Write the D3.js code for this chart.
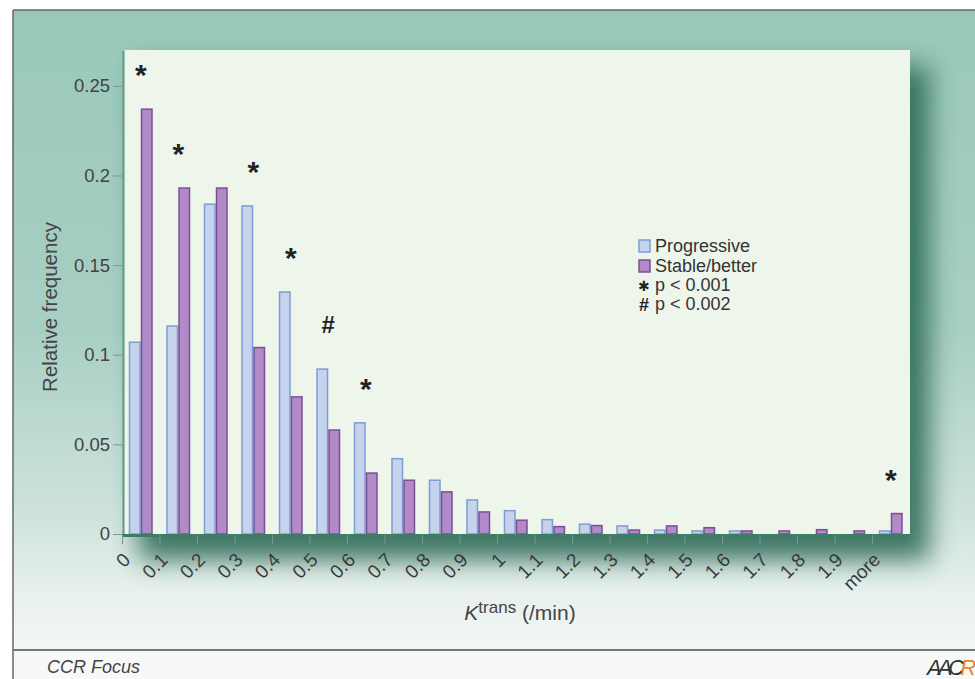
<!DOCTYPE html>
<html>
<head>
<meta charset="utf-8">
<script src="https://cdn.jsdelivr.net/npm/d3@7"></script>
<style>
  body { margin: 0; background: #fff; }
  text { font-family: "Liberation Sans", Arial, sans-serif; }
</style>
</head>
<body>
<div id="chart"></div>
<script>
/* Ktrans histogram: progressive vs stable/better */

const categories = ["0", "0.1", "0.2", "0.3", "0.4", "0.5", "0.6", "0.7", "0.8", "0.9",
  "1", "1.1", "1.2", "1.3", "1.4", "1.5", "1.6", "1.7", "1.8", "1.9", "more"];
const progressive = [0.107, 0.116, 0.184, 0.183, 0.135, 0.092, 0.062, 0.042, 0.030, 0.019,
  0.013, 0.008, 0.0055, 0.0045, 0.0022, 0.0017, 0.0017, 0, 0, 0, 0.0017];
const stable = [0.237, 0.193, 0.193, 0.104, 0.0765, 0.058, 0.034, 0.030, 0.0235, 0.0123,
  0.0077, 0.0041, 0.0047, 0.0022, 0.0045, 0.0035, 0.0017, 0.0017, 0.0024, 0.0017, 0.0114];
const yTicks = [0, 0.05, 0.1, 0.15, 0.2, 0.25];
const marks = [
  { cat: "0", sym: "*" }, { cat: "0.1", sym: "*" }, { cat: "0.3", sym: "*" },
  { cat: "0.4", sym: "*" }, { cat: "0.5", sym: "#" }, { cat: "0.6", sym: "*" },
  { cat: "more", sym: "*" }
];
const legendItems = [
  { label: "Progressive", key: "progressive" },
  { label: "Stable/better", key: "stable" },
  { label: "p < 0.001", sym: "✱" },
  { label: "p < 0.002", sym: "#" }
];

const colors = {
  progressive: { fill: "#c5d3ef", stroke: "#7e9dd2" },
  stable: { fill: "#b18ac7", stroke: "#7b4f95" }
};

const W = 975, H = 679;
const pLeft = 123, pRight = 909.5, pTop = 50, pBottom = 534;

const svg = d3.select("#chart").append("svg")
  .attr("width", W)
  .attr("height", H);

const defs = svg.append("defs");
const bg = defs.append("linearGradient")
  .attr("id", "bg")
  .attr("x1", 0).attr("y1", 0).attr("x2", 0).attr("y2", 1);
bg.append("stop").attr("offset", "0%").attr("stop-color", "#99c8b9");
bg.append("stop").attr("offset", "50%").attr("stop-color", "#a8cfc3");
bg.append("stop").attr("offset", "78%").attr("stop-color", "#cde2db");
bg.append("stop").attr("offset", "92%").attr("stop-color", "#e9f1ed");
bg.append("stop").attr("offset", "100%").attr("stop-color", "#f3f7f5");

defs.append("filter")
  .attr("id", "blur")
  .attr("x", "-20%").attr("y", "-20%").attr("width", "140%").attr("height", "140%")
  .append("feGaussianBlur").attr("stdDeviation", 13);

// outer frame
svg.append("rect")
  .attr("x", 13).attr("y", 10)
  .attr("width", W - 13).attr("height", 640)
  .attr("fill", "url(#bg)");

svg.append("rect")
  .attr("x", 13).attr("y", 650)
  .attr("width", W - 13).attr("height", H - 650)
  .attr("fill", "#f7f9f9");

svg.append("line")
  .attr("x1", 13).attr("x2", W).attr("y1", 10).attr("y2", 10)
  .attr("stroke", "#666").attr("stroke-width", 1.5);
svg.append("line")
  .attr("x1", 13).attr("x2", 13).attr("y1", 10).attr("y2", H)
  .attr("stroke", "#666").attr("stroke-width", 1.5);
svg.append("line")
  .attr("x1", 13).attr("x2", W).attr("y1", 650).attr("y2", 650)
  .attr("stroke", "#777").attr("stroke-width", 2);

// panel shadow + panel
svg.append("rect")
  .attr("x", pLeft + 16).attr("y", pTop + 16)
  .attr("width", pRight - pLeft + 4).attr("height", pBottom - pTop + 10)
  .attr("fill", "#2a6755")
  .attr("opacity", 0.88)
  .attr("filter", "url(#blur)");

svg.append("rect")
  .attr("x", pLeft).attr("y", pTop)
  .attr("width", 910 - pLeft).attr("height", pBottom - pTop + 2)
  .attr("fill", "#eef5eb");

// scales
const y = d3.scaleLinear().domain([0, 0.27]).range([pBottom, pTop]);
const xEdge = d3.scaleLinear().domain([0, categories.length]).range([pLeft - 1, pRight]);
const x = d3.scaleBand().domain(categories).range([pLeft - 1, pRight])
  .paddingInner(0.36).paddingOuter(0.18);
const xSub = d3.scaleBand().domain(["progressive", "stable"]).range([0, x.bandwidth()]);

// bars
const rows = categories.map((c, i) => ({ cat: c, progressive: progressive[i], stable: stable[i] }));

const groups = svg.append("g").selectAll("g")
  .data(rows)
  .join("g")
  .attr("transform", d => `translate(${x(d.cat)},0)`);

groups.selectAll("rect")
  .data(d => ["progressive", "stable"].map(k => ({ key: k, value: d[k] })).filter(e => e.value > 0))
  .join("rect")
  .attr("x", d => xSub(d.key) + 0.75)
  .attr("width", xSub.bandwidth() - 1.5)
  .attr("y", d => y(d.value))
  .attr("height", d => y(0) - y(d.value))
  .attr("fill", d => colors[d.key].fill)
  .attr("stroke", d => colors[d.key].stroke)
  .attr("stroke-width", 1.5);

// significance marks
svg.append("g").selectAll("text")
  .data(marks)
  .join("text")
  .attr("x", d => x(d.cat) + x.bandwidth() / 2)
  .attr("y", d => {
    const i = categories.indexOf(d.cat);
    const t = y(Math.max(progressive[i], stable[i]));
    return d.sym === "*" ? t - 24 : t - 36;
  })
  .attr("text-anchor", "middle")
  .attr("font-size", d => d.sym === "*" ? 30 : 24)
  .attr("font-weight", "bold")
  .attr("fill", "#222")
  .text(d => d.sym);

// y axis
const yAxis = svg.append("g")
  .attr("transform", `translate(${pLeft},0)`)
  .call(d3.axisLeft(y).tickValues(yTicks).tickFormat(d => String(d))
    .tickSize(10).tickSizeOuter(0).tickPadding(3));
yAxis.select(".domain").attr("stroke", "#5b9a80").attr("stroke-width", 2);
yAxis.selectAll(".tick line").attr("stroke", "#7c9c92");
yAxis.selectAll(".tick text")
  .attr("font-size", 18.5)
  .attr("fill", "#444");

// x axis
const xAxis = svg.append("g")
  .attr("transform", `translate(0,${pBottom + 1})`)
  .call(d3.axisBottom(xEdge).tickValues(d3.range(categories.length))
    .tickFormat(i => categories[i]).tickSize(9).tickSizeOuter(0));
xAxis.select(".domain").attr("stroke", "#3e7c66").attr("stroke-width", 3);
xAxis.selectAll(".tick line").attr("stroke", "#6f9a8c");
xAxis.selectAll(".tick text")
  .attr("x", 0).attr("y", 0).attr("dy", 0)
  .attr("transform", "translate(9,26) rotate(-45)")
  .attr("text-anchor", "end")
  .attr("font-size", 19)
  .attr("fill", "#3a3a3a");

// axis titles
svg.append("text")
  .attr("transform", "translate(57,307) rotate(-90)")
  .attr("text-anchor", "middle")
  .attr("font-size", 20.5)
  .attr("fill", "#444")
  .text("Relative frequency");

const xt = svg.append("text")
  .attr("x", 520).attr("y", 620)
  .attr("text-anchor", "middle")
  .attr("fill", "#444");
xt.append("tspan").attr("font-size", 21).attr("font-style", "italic").text("K");
xt.append("tspan").attr("font-size", 17).attr("dy", -7).text("trans");
xt.append("tspan").attr("font-size", 21).attr("dy", 7).text(" (/min)");

// legend: swatches, then one text block for all rows
const rowY = [252, 272, 291, 310];
const lg = svg.append("g").attr("transform", "translate(639,0)");
lg.selectAll("rect")
  .data(legendItems.filter(d => d.key))
  .join("rect")
  .attr("x", 0)
  .attr("y", d => rowY[legendItems.indexOf(d)] - 12)
  .attr("width", 11).attr("height", 12)
  .attr("fill", d => colors[d.key].fill)
  .attr("stroke", d => colors[d.key].stroke)
  .attr("stroke-width", 1.5);
const lt = lg.append("text")
  .attr("font-size", 18)
  .attr("fill", "#333");
legendItems.forEach((d, i) => {
  if (d.sym === "✱") {
    lt.append("tspan")
      .attr("x", -1)
      .attr("y", rowY[i])
      .attr("font-family", "DejaVu Sans, sans-serif")
      .attr("font-size", 14)
      .attr("fill", "#222")
      .text(d.sym);
  } else if (d.sym) {
    lt.append("tspan")
      .attr("x", 0)
      .attr("y", rowY[i] + 1)
      .attr("font-size", 18)
      .attr("font-weight", "bold")
      .attr("fill", "#222")
      .text(d.sym);
  }
  lt.append("tspan")
    .attr("x", 16)
    .attr("y", rowY[i])
    .text(d.label);
});

// footer
svg.append("text")
  .attr("x", 47).attr("y", 673)
  .attr("font-size", 18)
  .attr("font-style", "italic")
  .attr("fill", "#444")
  .text("CCR Focus");

const logo = svg.append("text")
  .attr("x", 927).attr("y", 675)
  .attr("font-family", "Liberation Serif, serif")
  .attr("font-size", 22)
  .attr("font-style", "italic")
  .attr("letter-spacing", -4);
logo.append("tspan").attr("fill", "#333").text("AAC");
logo.append("tspan").attr("fill", "#e8882c").text("R");
</script>
</body>
</html>
